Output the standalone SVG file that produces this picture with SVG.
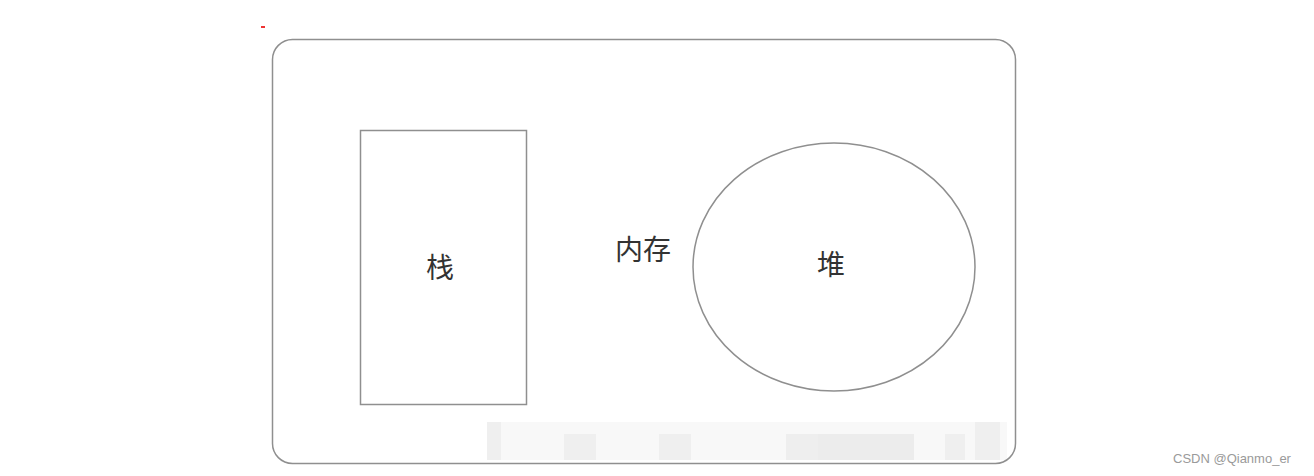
<svg xmlns="http://www.w3.org/2000/svg" width="1314" height="476" viewBox="0 0 1314 476">
<style>
.shape{fill:none;stroke:#8f8f8f;stroke-width:1.5}
.lbl{font-family:"Noto Sans CJK SC","Liberation Sans",sans-serif;font-size:28px;fill:#333;text-anchor:middle}
.blk{stroke:none}
</style>
<rect width="1314" height="476" fill="#fff"/>
<rect x="261" y="26" width="4" height="2" fill="#e33"/>
<g id="mosaic">
<rect class="blk" x="487" y="422" width="520" height="38" fill="#f8f8f8"/>
<rect class="blk" x="487" y="422" width="14" height="38" fill="#efefef"/>
<rect class="blk" x="564" y="434" width="32" height="26" fill="#efefef"/>
<rect class="blk" x="659" y="434" width="32" height="26" fill="#efefef"/>
<rect class="blk" x="786" y="434" width="32" height="26" fill="#eeeeee"/>
<rect class="blk" x="818" y="434" width="96" height="26" fill="#ececec"/>
<rect class="blk" x="945" y="434" width="20" height="26" fill="#efefef"/>
<rect class="blk" x="975" y="422" width="25" height="38" fill="#efefef"/>
</g>
<g id="memory">
<rect class="shape" x="272.5" y="39.5" width="743" height="424" rx="20" ry="20" stroke-width="2" stroke="#a0a0a0"/>
<text class="lbl" x="643" y="260">内存</text>
</g>
<g id="stack">
<rect class="shape" x="360.5" y="130.5" width="166" height="274"/>
<text class="lbl" x="440" y="278">栈</text>
</g>
<g id="heap">
<ellipse class="shape" cx="834" cy="267" rx="141" ry="124"/>
<text class="lbl" x="831" y="275">堆</text>
</g>
<g id="connectors"/>
<text x="1173" y="463" font-family="Liberation Sans,sans-serif" font-size="13" fill="#9a9a9a">CSDN @Qianmo_er</text>
</svg>
